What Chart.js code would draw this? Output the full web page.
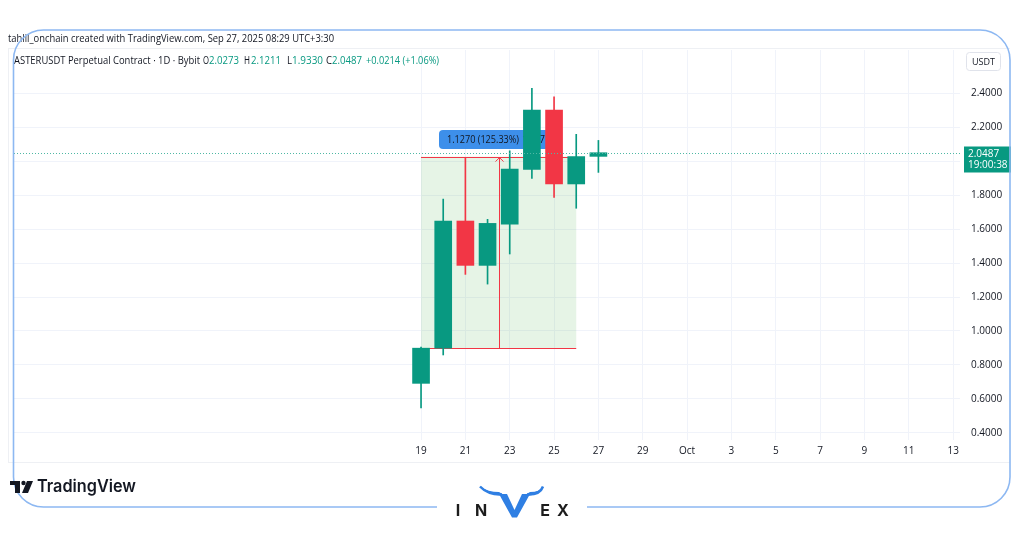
<!DOCTYPE html>
<html>
<head>
<meta charset="utf-8">
<script src="https://cdn.jsdelivr.net/npm/chart.js@4.4.1/dist/chart.umd.min.js"></script>
<style>
  html,body{margin:0;padding:0;background:#fff;overflow:hidden}
  canvas{display:block}
</style>
</head>
<body>
<canvas id="chart" width="1024" height="538"></canvas>
<script>
// daily candles, Sep 19 -> Sep 27 (day offset from Sep 19)
const candleDays = [0, 1, 2, 3, 4, 5, 6, 7, 8];
const opens  = [0.692, 0.899, 1.647, 1.386, 1.629, 1.951, 2.300, 1.865, 2.0273];
const highs  = [0.905, 1.776, 2.020, 1.657, 2.060, 2.428, 2.378, 2.157, 2.1211];
const lows   = [0.547, 0.859, 1.333, 1.276, 1.453, 1.898, 1.786, 1.722, 1.9330];
const closes = [0.899, 1.647, 1.386, 1.633, 1.953, 2.300, 1.865, 2.026, 2.0487];

const tickDays   = [0, 2, 4, 6, 8, 10, 12, 14, 16, 18, 20, 22, 24];
const tickLabels = ["19", "21", "23", "25", "27", "29", "Oct", "3", "5", "7", "9", "11", "13"];
const priceTicks = [0.4, 0.6, 0.8, 1.0, 1.2, 1.4, 1.6, 1.8, 2.0, 2.2, 2.4];

const lastPrice = 2.0487;
// price range tool
const rangeFrom = 0.899, rangeTo = 2.026;
const rangeStartDay = 0, rangeEndDay = 7;

const UP = "#089981", DOWN = "#f23645";
const FONT = "'Open Sans', 'Liberation Sans', sans-serif";
const colors = candleDays.map((d, i) => closes[i] >= opens[i] ? UP : DOWN);

// -----------------------------
// drawing helpers
// -----------------------------
function roundRect(ctx, x, y, w, h, r){
  ctx.beginPath();
  ctx.moveTo(x + r, y);
  ctx.arcTo(x + w, y, x + w, y + h, r);
  ctx.arcTo(x + w, y + h, x, y + h, r);
  ctx.arcTo(x, y + h, x, y, r);
  ctx.arcTo(x, y, x + w, y, r);
  ctx.closePath();
}

const rangeTool = {
  id: "rangeTool",
  beforeDatasetsDraw(chart){
    const { ctx, scales: { x, y } } = chart;
    const x0 = x.getPixelForValue(rangeStartDay), x1 = x.getPixelForValue(rangeEndDay);
    const yTop = y.getPixelForValue(rangeTo), yBot = y.getPixelForValue(rangeFrom);
    ctx.save();
    ctx.fillStyle = "rgba(76,175,80,0.14)";
    ctx.fillRect(x0, yTop, x1 - x0, yBot - yTop);
    ctx.strokeStyle = DOWN;
    ctx.lineWidth = 1;
    ctx.beginPath();
    ctx.moveTo(x0, Math.round(yTop) + 0.5); ctx.lineTo(x1, Math.round(yTop) + 0.5);
    ctx.moveTo(x0, Math.round(yBot) + 0.5); ctx.lineTo(x1, Math.round(yBot) + 0.5);
    const xm = Math.round((x0 + x1) / 2) + 0.5;
    ctx.moveTo(xm, yBot); ctx.lineTo(xm, yTop + 1);
    ctx.moveTo(xm - 4, yTop + 5); ctx.lineTo(xm, yTop + 1); ctx.lineTo(xm + 4, yTop + 5);
    ctx.stroke();

    // label (candles draw over it)
    ctx.fillStyle = "#3d8fea";
    roundRect(ctx, 439, 130, 110, 19, 4);
    ctx.fill();
    ctx.fillStyle = "#131722";
    ctx.font = "10px " + FONT;
    ctx.textBaseline = "middle";
    ctx.textAlign = "left";
    ctx.fillText("1.1270 (125.33%)", 447, 140, 72);
    ctx.fillText("1127", 522, 140);
    ctx.restore();
  }
};

const overlay = {
  id: "overlay",
  afterDraw(chart){
    const { ctx, scales: { x, y }, chartArea } = chart;
    ctx.save();

    // last price dotted line + tag
    const py = Math.round(y.getPixelForValue(lastPrice)) + 0.5;
    ctx.strokeStyle = "#4fb8a4";
    ctx.lineWidth = 1;
    ctx.setLineDash([1, 2]);
    ctx.beginPath();
    ctx.moveTo(chartArea.left, py); ctx.lineTo(chartArea.right, py);
    ctx.stroke();
    ctx.setLineDash([]);
    ctx.fillStyle = UP;
    ctx.fillRect(964, py - 7, 47, 26);
    ctx.fillStyle = "#ffffff";
    ctx.font = "10px " + FONT;
    ctx.textBaseline = "middle";
    ctx.textAlign = "left";
    ctx.fillText(lastPrice.toFixed(4), 968, py + 0.5);
    ctx.fillText("19:00:38", 968, py + 12);

    // USDT box
    ctx.strokeStyle = "#e0e3eb";
    ctx.fillStyle = "#ffffff";
    roundRect(ctx, 966.5, 52.5, 34, 18, 3);
    ctx.fill(); ctx.stroke();
    ctx.fillStyle = "#131722";
    ctx.font = "9px " + FONT;
    ctx.textAlign = "center";
    ctx.fillText("USDT", 983.5, 62);

    // header lines
    ctx.textAlign = "left";
    ctx.fillStyle = "#131722";
    ctx.font = "11px " + FONT;
    ctx.fillText("tahlil_onchain created with TradingView.com, Sep 27, 2025 08:29 UTC+3:30", 8, 39, 326);
    ctx.strokeStyle = "#eef0f4";
    ctx.beginPath();
    ctx.moveTo(8, 48.5); ctx.lineTo(1010, 48.5);
    ctx.moveTo(8.5, 48); ctx.lineTo(8.5, 462);
    ctx.moveTo(8, 462.5); ctx.lineTo(1010, 462.5);
    ctx.stroke();

    ctx.font = "10px " + FONT;
    const parts = [
      ["ASTERUSDT Perpetual Contract \u00b7 1D \u00b7 Bybit", 14, 186, "#131722"],
      ["O", 203, 6, "#131722"], ["2.0273", 209, 30, UP],
      ["H", 244, 6, "#131722"], ["2.1211", 251, 30, UP],
      ["L", 287, 5, "#131722"], ["1.9330", 292, 31, UP],
      ["C", 326, 6, "#131722"], ["2.0487", 332, 30, UP],
      ["+0.0214 (+1.06%)", 366, 73, UP]
    ];
    for(const [t, px, w, c] of parts){
      ctx.fillStyle = c;
      ctx.fillText(t, px, 61, w);
    }

    // outer frame with gap for the logo
    ctx.strokeStyle = "#8db8f2";
    ctx.lineWidth = 1.6;
    const L = 13.5, T = 30, R = 1010, B = 507, r = 30;
    ctx.beginPath();
    ctx.moveTo(437, B);
    ctx.lineTo(L + r, B);
    ctx.arcTo(L, B, L, B - r, r);
    ctx.lineTo(L, T + r);
    ctx.arcTo(L, T, L + r, T, r);
    ctx.lineTo(R - r, T);
    ctx.arcTo(R, T, R, T + r, r);
    ctx.lineTo(R, B - r);
    ctx.arcTo(R, B, R - r, B, r);
    ctx.lineTo(587, B);
    ctx.stroke();

    // TradingView logo
    ctx.fillStyle = "#131722";
    ctx.fillRect(10, 481, 10, 4);
    ctx.fillRect(15, 481, 5, 12);
    ctx.beginPath(); ctx.arc(23.5, 483, 2.2, 0, Math.PI * 2); ctx.fill();
    ctx.beginPath();
    ctx.moveTo(27, 481); ctx.lineTo(33, 481); ctx.lineTo(28, 493); ctx.lineTo(22, 493);
    ctx.closePath(); ctx.fill();
    ctx.font = "600 17px Inter, " + FONT;
    ctx.textBaseline = "middle";
    ctx.fillText("TradingView", 37, 487, 99);

    // INVEX logo
    ctx.font = "700 16px Inter, " + FONT;
    ctx.textAlign = "center";
    ctx.fillStyle = "#1c1c1c";
    ctx.fillText("I", 458, 511);
    ctx.fillText("N", 481, 511);
    ctx.fillText("E", 545, 511);
    ctx.fillText("X", 563, 511);
    ctx.fillStyle = "#2f7fe3";
    ctx.beginPath();
    ctx.moveTo(499, 494); ctx.lineTo(507, 494); ctx.lineTo(514.5, 510);
    ctx.lineTo(522, 494); ctx.lineTo(530, 494); ctx.lineTo(517, 517.5); ctx.lineTo(512, 517.5);
    ctx.closePath(); ctx.fill();
    ctx.beginPath();
    ctx.moveTo(480, 486.5);
    ctx.quadraticCurveTo(488, 496, 505, 495.5);
    ctx.lineTo(499, 492);
    ctx.quadraticCurveTo(488, 492, 480, 486.5);
    ctx.moveTo(543, 486.5);
    ctx.quadraticCurveTo(541, 496, 524, 495.5);
    ctx.lineTo(530, 492);
    ctx.quadraticCurveTo(540, 492, 543, 486.5);
    ctx.fill();
    ctx.strokeStyle = "#2f7fe3";
    ctx.lineWidth = 2.5;
    ctx.beginPath();
    ctx.moveTo(480, 486.5); ctx.quadraticCurveTo(488, 495, 502, 494.5);
    ctx.moveTo(543, 486.5); ctx.quadraticCurveTo(540, 495, 527, 494.5);
    ctx.stroke();

    ctx.restore();
  }
};

new Chart(document.getElementById("chart"), {
  type: "bar",
  data: {
    datasets: [
      {
        label: "wicks",
        data: candleDays.map((d, i) => ({ x: d, y: [lows[i], highs[i]] })),
        backgroundColor: colors,
        barThickness: 1,
        grouped: false,
        order: 2
      },
      {
        label: "bodies",
        data: candleDays.map((d, i) => ({ x: d, y: [opens[i], closes[i]] })),
        backgroundColor: colors,
        barThickness: 17,
        grouped: false,
        order: 1
      }
    ]
  },
  options: {
    responsive: false,
    animation: false,
    devicePixelRatio: 1,
    layout: { padding: { left: 14, top: 50, right: 14, bottom: 76 } },
    plugins: { legend: { display: false }, tooltip: { enabled: false } },
    scales: {
      x: {
        type: "linear",
        offset: false,
        min: -18.36,
        max: 24.31,
        afterBuildTicks: s => { s.ticks = tickDays.map(v => ({ value: v })); },
        afterFit: s => { s.height = 22; },
        ticks: {
          autoSkip: false, maxRotation: 0, padding: 5,
          color: "#131722", font: { size: 10, family: FONT },
          callback: v => tickLabels[tickDays.indexOf(v)]
        },
        grid: { color: "#f0f3fa", drawTicks: false, offset: false },
        border: { display: false }
      },
      y: {
        type: "linear",
        position: "right",
        min: 0.3588,
        max: 2.653,
        afterBuildTicks: s => { s.ticks = priceTicks.map(v => ({ value: v })); },
        afterFit: s => { s.width = 50; },
        ticks: {
          padding: 11,
          color: "#131722", font: { size: 10, family: FONT },
          callback: v => Number(v).toFixed(4)
        },
        grid: { color: "#f0f3fa", drawTicks: false },
        border: { display: false }
      }
    }
  },
  plugins: [rangeTool, overlay]
});
</script>
</body>
</html>
